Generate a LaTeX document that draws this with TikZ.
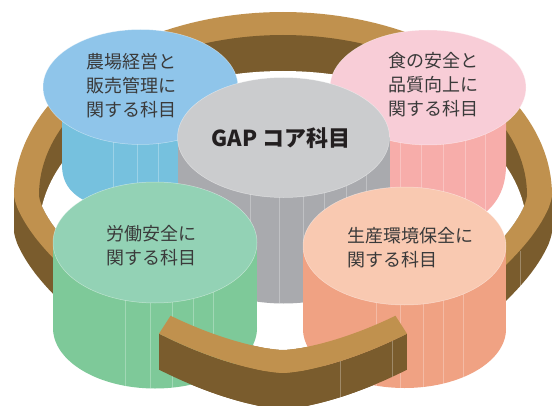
\documentclass[tikz,border=0pt]{standalone}
\usepackage{fontspec}
\newfontfamily\jpfont{Noto Sans CJK JP}
\definecolor{ringtop}{RGB}{192,145,78}
\definecolor{ringdark}{RGB}{122,92,45}
\definecolor{bluetop}{RGB}{143,197,234}
\definecolor{blueside}{RGB}{118,193,222}
\definecolor{pinktop}{RGB}{248,205,215}
\definecolor{pinkside}{RGB}{247,173,170}
\definecolor{graytop}{RGB}{203,204,206}
\definecolor{grayside}{RGB}{169,170,174}
\definecolor{greentop}{RGB}{147,210,181}
\definecolor{greenside}{RGB}{126,201,153}
\definecolor{orangetop}{RGB}{249,201,177}
\definecolor{orangeside}{RGB}{240,162,131}
\definecolor{inktext}{RGB}{58,58,58}
\definecolor{inkcore}{RGB}{35,31,32}

% ring outline: elliptical back half, flatter superellipse front half
% #1 half width, #2 back depth, #3 front depth, #4 vertical shift, #5 path options
\newcommand\ringpath[5]{%
  \path[#5] plot[domain=180:360,samples=91] ({283+#1*cos(\x)},{195+#4+#2*sin(\x)})
    -- plot[domain=0:180,samples=91] ({283+#1*spw(cos(\x))},{195+#4+#3*spw(sin(\x))}) -- cycle;}

% upright cylinder: centre x, top centre y, radii, height, side colour, top colour, facet positions
\newcommand\cylinder[8]{%
  \fill[#6] (#1-#3,#2) rectangle (#1+#3,#2+#5);
  \fill[#6] (#1,#2+#5) ellipse[x radius=#3, y radius=#4];
  \foreach \fx in {#8} \draw[facet] (\fx,{#2+#4*sqrt(1-((\fx-#1)/#3)^2)}) -- ++(0,#5);
  \path[fill=#7, rim] (#1,#2) ellipse[x radius=#3, y radius=#4];}

\begin{document}
\begin{tikzpicture}[x=1pt,y=-1pt,
  declare function={spw(\v)=sign(\v)*pow(abs(\v)+0.00001,1.3333);},
  facet/.style={draw=white,draw opacity=0.28,line width=0.5pt},
  rim/.style={draw=white,draw opacity=0.45,line width=0.5pt},
  subject/.style={font=\jpfont\fontsize{18}{24}\selectfont,text=inktext,align=left,inner sep=0pt},
  core/.style={font=\jpfont\bfseries\fontsize{22}{26}\selectfont,text=inkcore,inner sep=0pt}]
\useasboundingbox (0,0) rectangle (553,406);
\clip (0,0) rectangle (553,406);
\fill[white] (0,0) rectangle (553,406);

% ring: outer wall, top face, inner wall and the opening
\ringpath{269}{183}{178}{36}{fill=ringdark}
\fill[ringdark] (14,195) rectangle (552,231);
\ringpath{269}{183}{178}{0}{fill=ringtop}
\ringpath{244}{160}{155}{0}{fill=ringdark}
\begin{scope}
  \ringpath{244}{160}{155}{36}{clip}
  \ringpath{244}{160}{155}{0}{fill=white}
\end{scope}
\draw[facet] (520,251) -- (520,287);

% back left cylinder (its side stops where the ring passes in front)
\fill[blueside] (62,87) -- (62,165) .. controls (62,184) and (72,196) .. (92,204)
  -- (238,204) -- (238,87) -- cycle;
\foreach \fx in {113,137,158} \draw[facet] (\fx,120) -- (\fx,215);
\path[fill=bluetop, rim] (140.5,87) ellipse[x radius=97.5, y radius=57.5];
\node[subject] (farm) at (131,86) {農場経営と\\販売管理に\\関する科目};

% back right cylinder
\fill[pinkside] (506,87) -- (506,165) .. controls (506,184) and (500,200) .. (486,212)
  -- (330,212) -- (330,87) -- cycle;
\foreach \fx in {400,421,443,465,485} \draw[facet] (\fx,120) -- (\fx,220);
\path[fill=pinktop, rim] (428,87.5) ellipse[x radius=98, y radius=57.5];
\node[subject] (food) at (433,85) {食の安全と\\品質向上に\\関する科目};

% centre cylinder
\cylinder{283.5}{137.5}{106}{60}{106}{grayside}{graytop}{250,279,303,324,346,366}
\node[core] (core) at (281,138.5) {GAP コア科目};

% front cylinders
\cylinder{155}{242.5}{102}{60.5}{85.5}{greenside}{greentop}{125,150,172,193,213}
\node[subject] (labor) at (151,246) {労働安全に\\関する科目};
\cylinder{404.5}{246}{101.5}{59}{83}{orangeside}{orangetop}{376,400,423,443,463}
\node[subject, anchor=west] (env) at (347,247.5) {生産環境保全に\\関する科目};

% front piece of the ring, passing in front of the two front cylinders
\fill[ringdark] plot[domain=56:124,samples=40] ({283+269*spw(cos(\x))},{195+178*spw(sin(\x))})
  -- plot[domain=124:56,samples=40] ({283+269*spw(cos(\x))},{231+178*spw(sin(\x))}) -- cycle;
\fill[ringtop] plot[domain=56:124,samples=40] ({283+269*spw(cos(\x))},{195+178*spw(sin(\x))})
  -- plot[domain=124:56,samples=40] ({283+244*spw(cos(\x))},{195+155*spw(sin(\x))}) -- cycle;
\draw[facet] (340,361) -- (340,397);
\draw[facet] (392,341) -- (392,377);
\end{tikzpicture}
\end{document}
